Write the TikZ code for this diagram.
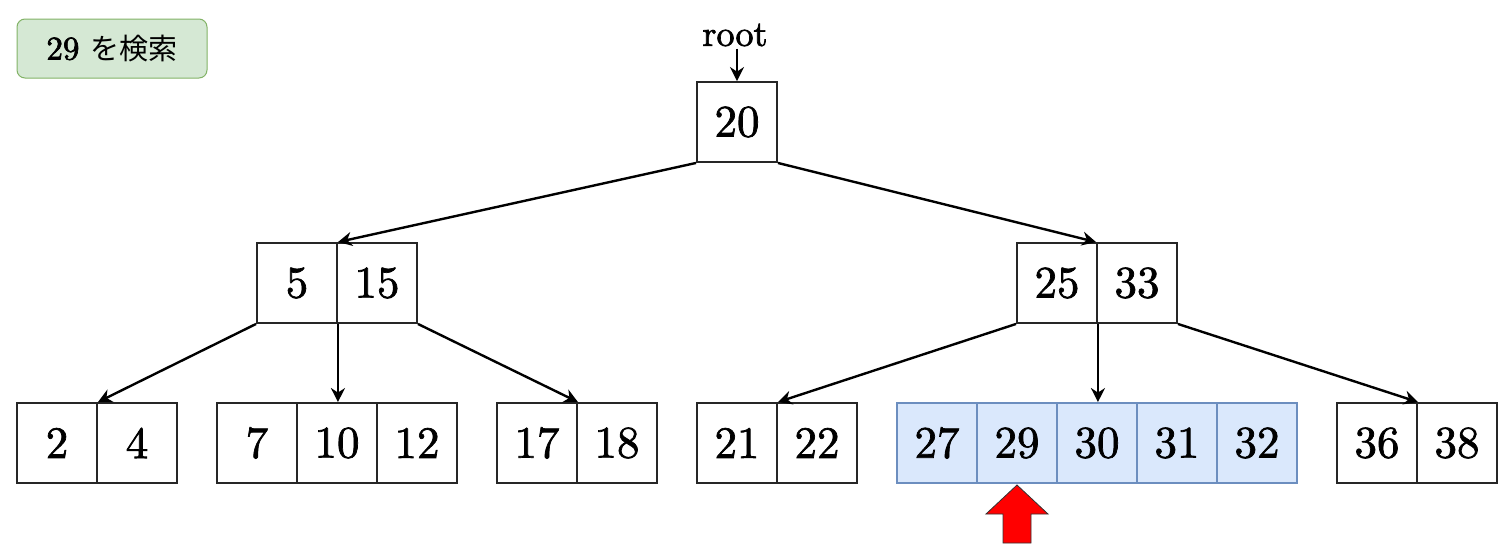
\documentclass[tikz,border=0pt]{standalone}
\usepackage{fontspec}
\setmainfont{lmroman10-regular}[Extension=.otf]
\newfontfamily\cjk{Noto Sans CJK JP}[Scale=0.88]
\usetikzlibrary{arrows.meta}
\definecolor{gfill}{HTML}{D5E8D4}
\definecolor{gline}{HTML}{82B366}
\definecolor{bfill}{HTML}{DAE8FC}
\definecolor{bline}{HTML}{6C8EBF}
\newcommand{\heavytxt}[1]{\special{pdf:code 2 Tr 0.35 w 0 G}#1\special{pdf:code 0 Tr}}
\begin{document}
\begin{tikzpicture}[x=0.5pt,y=-0.5pt,
  cell/.style={draw=black!85,line width=0.95pt,minimum width=40pt,minimum height=40pt,inner sep=0pt,font=\fontsize{22.5}{26}\selectfont},
  hcell/.style={cell,draw=bline,fill=bfill},
  link/.style={line width=1.2pt,-{Stealth[length=7pt,width=7pt]}},
  label/.style={rounded corners=4pt,draw=gline,fill=gfill,line width=0.5pt,minimum width=95pt,minimum height=29.5pt,inner sep=0pt,font=\fontsize{16.5}{19}\selectfont}]
\useasboundingbox (0,0) rectangle (1512,558);
% label
\node[label] (lab) at (112,48.5) {\heavytxt{29} {\cjk を検索}};
% root
\node[cell] (r) at (737,122) {\heavytxt{20}};
\node[font=\fontsize{18}{20}\selectfont,inner sep=1pt] (rootlab) at (735,35) {\heavytxt{root}};
\draw[link] (rootlab.south -| r.north) -- (r.north);
% level 2
\node[cell] (a1) at (297,283) {\heavytxt{5}};
\node[cell] (a2) at (377,283) {\heavytxt{15}};
\node[cell] (b1) at (1057,283) {\heavytxt{25}};
\node[cell] (b2) at (1137,283) {\heavytxt{33}};
% leaves
\node[cell] (l1) at (57,443) {\heavytxt{2}};
\node[cell] (l2) at (137,443) {\heavytxt{4}};
\node[cell] (l3) at (257,443) {\heavytxt{7}};
\node[cell] (l4) at (337,443) {\heavytxt{10}};
\node[cell] (l5) at (417,443) {\heavytxt{12}};
\node[cell] (l6) at (537,443) {\heavytxt{17}};
\node[cell] (l7) at (617,443) {\heavytxt{18}};
\node[cell] (l8) at (737,443) {\heavytxt{21}};
\node[cell] (l9) at (817,443) {\heavytxt{22}};
\node[hcell] (h1) at (937,443) {\heavytxt{27}};
\node[hcell] (h2) at (1017,443) {\heavytxt{29}};
\node[hcell] (h3) at (1097,443) {\heavytxt{30}};
\node[hcell] (h4) at (1177,443) {\heavytxt{31}};
\node[hcell] (h5) at (1257,443) {\heavytxt{32}};
\node[cell] (l10) at (1377,443) {\heavytxt{36}};
\node[cell] (l11) at (1457,443) {\heavytxt{38}};
% links
\draw[link] (r.south west) -- (a1.north east);
\draw[link] (r.south east) -- (b2.north west);
\draw[link] (a1.south west) -- (l1.north east);
\draw[link] (a1.south east) -- (a1.south east |- l4.north);
\draw[link] (a2.south east) -- (l6.north east);
\draw[link] (b1.south west) -- (l8.north east);
\draw[link] (b1.south east) -- (b1.south east |- h3.north);
\draw[link] (b2.south east) -- (l10.north east);
% red arrow
\draw[fill=red,draw=black!80,line width=0.4pt] (1017,485) -- (1048,514) -- (1031,514) -- (1031,543) -- (1003,543) -- (1003,514) -- (986,514) -- cycle;
\end{tikzpicture}
\end{document}
